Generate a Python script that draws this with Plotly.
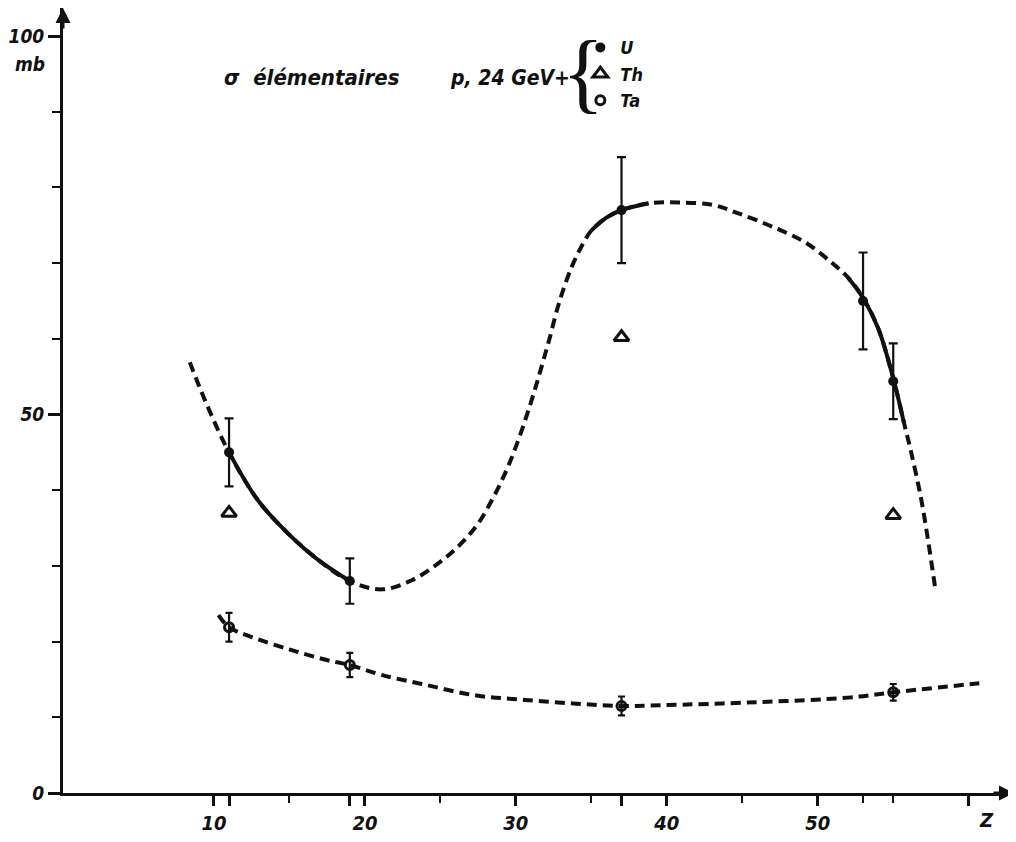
import plotly.graph_objects as go

# ---- data ----
u_z = [11, 19, 37, 53, 55]
u_v = [45.0, 28.0, 77.0, 65.0, 54.4]
u_err = [4.5, 3.0, 7.0, 6.4, 5.0]

th_z = [11, 37, 55]
th_v = [37.0, 60.2, 36.7]

ta_z = [11, 19, 37, 55]
ta_v = [21.9, 16.9, 11.5, 13.3]
ta_err = [1.9, 1.6, 1.25, 1.1]

# U curve (whole curve, drawn dashed)
u_curve_z = [8.4, 9.4, 11.0, 12.9, 14.9, 16.9, 19.0, 21.1, 23.1, 24.9, 26.2, 27.5, 28.6,
             29.5, 30.3, 31.0, 31.6, 32.2, 32.9, 33.7, 34.4, 35.0, 36.0, 37.0, 38.8, 40.8,
             43.0, 44.7, 47.0, 49.2, 50.9, 52.0, 53.0, 54.0, 55.0, 55.7, 56.2, 56.9, 57.8]
u_curve_v = [56.9, 51.9, 45.0, 38.7, 34.3, 30.8, 28.0, 26.9, 28.1, 30.4, 32.6, 35.6, 39.4,
             43.2, 47.4, 51.6, 55.6, 59.8, 65.0, 69.5, 72.4, 74.3, 76.0, 77.0, 77.9, 78.0,
             77.7, 76.6, 74.8, 72.7, 70.1, 68.1, 65.4, 61.4, 54.8, 49.0, 44.9, 38.3, 26.8]
# Z ranges where the U curve is drawn solid
u_solid_ranges = [(11.0, 19.0), (35.0, 38.8), (52.0, 55.7)]

# Ta curve (dashed)
ta_curve_z = [10.3, 11.0, 12.5, 15.1, 17.4, 19.0, 21.1, 24.0, 27.3, 30.6, 34.0, 37.0, 39.7,
              46.0, 52.0, 55.0, 60.7]
ta_curve_v = [23.5, 21.9, 20.6, 18.9, 17.6, 16.9, 15.6, 14.3, 12.9, 12.3, 11.8, 11.5, 11.6,
              12.0, 12.6, 13.3, 14.5]

y_major = [0, 50, 100]
y_major_labels = ["0", "50", "100"]
y_minor = [10, 20, 30, 40, 60, 70, 80, 90]
x_major = [10, 11, 19, 20, 30, 37, 40, 50, 60]
x_major_labels = ["10", "", "", "20", "30", "", "40", "50", ""]
x_minor = [15, 25, 35, 45, 53, 55]
x_unit = "Z"
x_unit_pos = 61.2

title_part1 = "σ  élémentaires"
title_part2 = "p, 24 GeV+"
y_unit = "mb"

X_MAX = 63.0
Y_MAX = 103.7

FONT = "DejaVu Sans Condensed, DejaVu Sans, Liberation Sans"
BLACK = "#111111"

fig = go.Figure()

# whole U curve dashed, solid overlays on the measured ranges
fig.add_trace(go.Scatter(
    x=u_curve_z, y=u_curve_v, mode="lines",
    line=dict(color=BLACK, width=4, shape="spline", dash="10px,6px"),
    hoverinfo="skip", showlegend=False))
for lo, hi in u_solid_ranges:
    seg = [(z, v) for z, v in zip(u_curve_z, u_curve_v) if lo <= z <= hi]
    fig.add_trace(go.Scatter(
        x=[p[0] for p in seg], y=[p[1] for p in seg], mode="lines",
        line=dict(color=BLACK, width=4, shape="spline"),
        hoverinfo="skip", showlegend=False))

fig.add_trace(go.Scatter(
    x=ta_curve_z, y=ta_curve_v, mode="lines",
    line=dict(color=BLACK, width=4, shape="spline", dash="10px,6px"),
    hoverinfo="skip", showlegend=False))

fig.add_trace(go.Scatter(
    x=u_z, y=u_v, mode="markers", name="U",
    marker=dict(symbol="circle", size=10, color=BLACK),
    error_y=dict(type="data", array=u_err, color=BLACK, thickness=2.2, width=4.5)))
fig.add_trace(go.Scatter(
    x=th_z, y=th_v, mode="markers", name="Th",
    marker=dict(symbol="triangle-up-open", size=13, color=BLACK, line=dict(width=3, color=BLACK))))
fig.add_trace(go.Scatter(
    x=ta_z, y=ta_v, mode="markers", name="Ta",
    marker=dict(symbol="circle-open", size=9, color=BLACK, line=dict(width=3, color=BLACK)),
    error_y=dict(type="data", array=ta_err, color=BLACK, thickness=2.2, width=3.5)))

xtickfont = dict(family=FONT, size=20, color=BLACK, style="italic", weight="bold")
ytickfont = dict(family=FONT, size=19, color=BLACK, style="italic", weight="bold")
textfont = dict(family=FONT, size=22, color=BLACK, style="italic", weight="bold")
textfont2 = dict(family=FONT, size=21, color=BLACK, style="italic", weight="bold")

# the page adds an 8 px body margin, so the figure is sized to fit inside it
fig.update_layout(
    width=1008, height=826,
    margin=dict(l=55, r=2, t=0, b=41),
    paper_bgcolor="white", plot_bgcolor="white",
    showlegend=True,
    legend=dict(x=0.544, y=0.973, xanchor="left", yanchor="top",
                bgcolor="rgba(0,0,0,0)", borderwidth=0,
                font=dict(family=FONT, size=18, color=BLACK, style="italic", weight="bold"),
                itemclick=False, itemdoubleclick=False),
    xaxis=dict(range=[0, X_MAX], showgrid=False, zeroline=False, automargin=False,
               showline=True, linecolor=BLACK, linewidth=3,
               ticks="outside", ticklen=10, tickwidth=2.5, tickcolor=BLACK,
               tickmode="array", tickvals=x_major, ticktext=x_major_labels,
               tickfont=xtickfont,
               minor=dict(ticks="outside", ticklen=7, tickwidth=2, tickcolor=BLACK,
                          tickmode="array", tickvals=x_minor, showgrid=False)),
    yaxis=dict(range=[0, Y_MAX], showgrid=False, zeroline=False, automargin=False,
               showline=True, linecolor=BLACK, linewidth=3,
               ticks="outside", ticklen=12, tickwidth=2.5, tickcolor=BLACK,
               tickmode="array", tickvals=y_major, ticktext=y_major_labels,
               tickfont=ytickfont,
               minor=dict(ticks="outside", ticklen=8, tickwidth=2, tickcolor=BLACK,
                          tickmode="array", tickvals=y_minor, showgrid=False)),
)

# axis arrows
fig.add_annotation(x=X_MAX, y=0, xref="x", yref="y", ax=-22, ay=0, text="",
                   showarrow=True, arrowhead=2, arrowsize=1, arrowwidth=3, arrowcolor=BLACK)
fig.add_annotation(x=0, y=Y_MAX, xref="x", yref="y", ax=0, ay=22, text="",
                   showarrow=True, arrowhead=2, arrowsize=1, arrowwidth=3, arrowcolor=BLACK)

# axis unit labels
fig.add_annotation(x=x_unit_pos, y=0, xref="x", yref="y", xanchor="center",
                   yanchor="middle", yshift=-27, text=x_unit, showarrow=False, font=xtickfont)
fig.add_annotation(x=-0.0347, y=0.9287, xref="paper", yref="paper", xanchor="center",
                   yanchor="middle", text=y_unit, showarrow=False, font=ytickfont)

# title pieces
fig.add_annotation(x=0.167, y=0.911, xref="paper", yref="paper", xanchor="left",
                   yanchor="middle", text=title_part1, showarrow=False, font=textfont)
fig.add_annotation(x=0.405, y=0.911, xref="paper", yref="paper", xanchor="left",
                   yanchor="middle", text=title_part2, showarrow=False, font=textfont2)
# brace grouping the legend
fig.add_annotation(x=0.547, y=0.918, xref="paper", yref="paper", xanchor="center",
                   yanchor="middle", text="{", showarrow=False,
                   font=dict(family="Liberation Serif", size=88, color=BLACK, weight="normal"))

fig.write_html("out.html")
